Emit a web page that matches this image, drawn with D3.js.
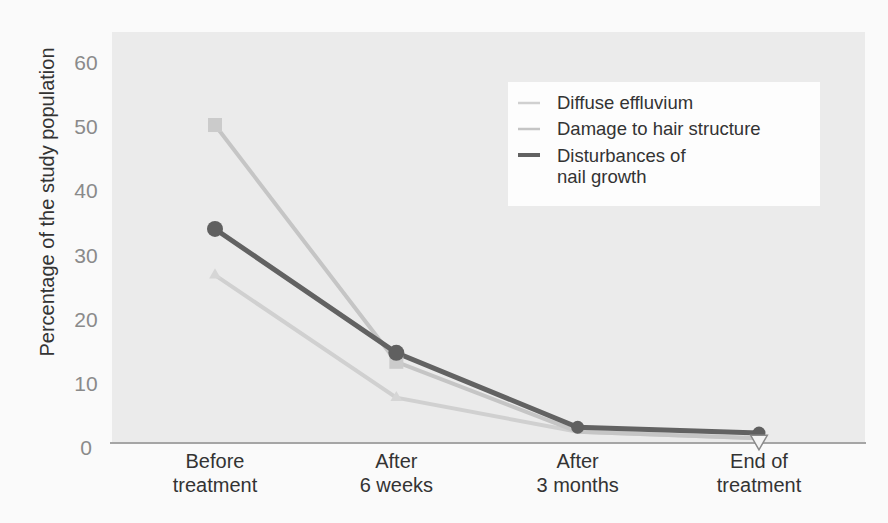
<!DOCTYPE html>
<html>
<head>
<meta charset="utf-8">
<script src="https://cdn.jsdelivr.net/npm/d3@7"></script>
<style>
  body { margin: 0; background: #fafafa; }
  text { font-family: "Liberation Sans", Arial, sans-serif; }
</style>
</head>
<body>
<div id="chart"></div>
<script>
const categories = [['Before', 'treatment'], ['After', '6 weeks'], ['After', '3 months'], ['End of', 'treatment']];
const seriesNames = ['Diffuse effluvium', 'Damage to hair structure', 'Disturbances of nail growth'];
const diffuse = [26, 6.9, 1.6, 0.6];
const damage = [49.4, 12.5, 1.6, 0.6];
const nails = [33.2, 13.9, 2.3, 1.4];
const yTicks = [0, 10, 20, 30, 40, 50, 60];

const w = 888;
const h = 523;

const svg = d3.select('#chart')
    .append('svg')
    .attr('width', w)
    .attr('height', h);

// grey plot panel
svg.append('rect')
    .attr('x', 112).attr('y', 32)
    .attr('width', 753).attr('height', 411)
    .attr('fill', '#ebebeb');

const xScale = d3.scalePoint()
    .domain(d3.range(categories.length))
    .range([215, 759]);

const yScale = d3.scaleLinear()
    .domain([0, 60])
    .range([442, 57]);

// bottom axis line
svg.append('line')
    .attr('x1', 110).attr('x2', 866)
    .attr('y1', 443).attr('y2', 443)
    .attr('stroke', '#a5a5a5')
    .attr('stroke-width', 2);

// y tick labels
svg.selectAll('.ytick')
    .data(yTicks)
    .enter()
    .append('text')
    .attr('class', 'ytick')
    .attr('x', 86)
    .attr('y', d => yScale(d) + 13)
    .attr('text-anchor', 'middle')
    .attr('font-size', 21)
    .attr('fill', '#8a8a8a')
    .text(d => d);

svg.append('text')
    .attr('transform', 'translate(54,202) rotate(-90)')
    .attr('text-anchor', 'middle')
    .attr('font-size', 20)
    .attr('fill', '#333')
    .text('Percentage of the study population');

// category labels
const cat = svg.selectAll('.cat')
    .data(categories)
    .enter()
    .append('text')
    .attr('class', 'cat')
    .attr('text-anchor', 'middle')
    .attr('font-size', 20)
    .attr('fill', '#333');
cat.append('tspan')
    .attr('x', (d, i) => xScale(i))
    .attr('y', 468)
    .text(d => d[0]);
cat.append('tspan')
    .attr('x', (d, i) => xScale(i))
    .attr('y', 492)
    .text(d => d[1]);

const line = d3.line()
    .x((d, i) => xScale(i))
    .y(d => yScale(d));

const series = [
    { name: seriesNames[0], values: diffuse, color: '#d0d0d0', width: 4 },
    { name: seriesNames[1], values: damage, color: '#c5c5c5', width: 4 },
    { name: seriesNames[2], values: nails, color: '#626262', width: 5 }
];

series.forEach(s => {
    svg.append('path')
        .datum(s.values)
        .attr('d', line)
        .attr('fill', 'none')
        .attr('stroke', s.color)
        .attr('stroke-width', s.width);
});

// markers
svg.selectAll('.sq')
    .data(damage.slice(0, 2))
    .enter()
    .append('rect')
    .attr('x', (d, i) => xScale(i) - 7)
    .attr('y', d => yScale(d) - 7)
    .attr('width', 14).attr('height', 14)
    .attr('fill', '#cbcbcb');

svg.selectAll('.tri')
    .data(diffuse.slice(0, 2))
    .enter()
    .append('path')
    .attr('transform', (d, i) => 'translate(' + xScale(i) + ',' + yScale(d) + ')')
    .attr('d', d3.symbol(d3.symbolTriangle, 60))
    .attr('fill', '#d6d6d6');

svg.selectAll('.dot')
    .data(nails)
    .enter()
    .append('circle')
    .attr('cx', (d, i) => xScale(i))
    .attr('cy', d => yScale(d))
    .attr('r', (d, i) => i < 2 ? 8 : 6.5)
    .attr('fill', '#606060');

// inverted triangle at end of treatment
svg.append('path')
    .attr('transform', 'translate(' + xScale(3) + ',' + (yScale(diffuse[3]) + 2) + ') rotate(180)')
    .attr('d', d3.symbol(d3.symbolTriangle, 120))
    .attr('fill', '#f4f4f4')
    .attr('stroke', '#8a8a8a')
    .attr('stroke-width', 1.5);

// legend
svg.append('rect')
    .attr('x', 508).attr('y', 82)
    .attr('width', 312).attr('height', 124)
    .attr('fill', '#fdfdfd');

const legendY = [103, 129, 155];
const legend = svg.selectAll('.leg')
    .data(series)
    .enter()
    .append('g')
    .attr('class', 'leg')
    .attr('transform', (d, i) => 'translate(518,' + legendY[i] + ')');
legend.append('line')
    .attr('x1', 0).attr('x2', 22)
    .attr('y1', 0).attr('y2', 0)
    .attr('stroke', d => d.color)
    .attr('stroke-width', (d, i) => i === 2 ? 4 : 2.5);
const legText = legend.append('text')
    .attr('x', 39)
    .attr('y', (d, i) => i === 2 ? 7 : 6)
    .attr('font-size', 18.5)
    .attr('fill', '#333');
legText.append('tspan')
    .attr('x', 39)
    .text(d => d.name === seriesNames[2] ? 'Disturbances of' : d.name);
legText.filter(d => d.name === seriesNames[2])
    .append('tspan')
    .attr('x', 39)
    .attr('dy', 21)
    .text('nail growth');
</script>
</body>
</html>
